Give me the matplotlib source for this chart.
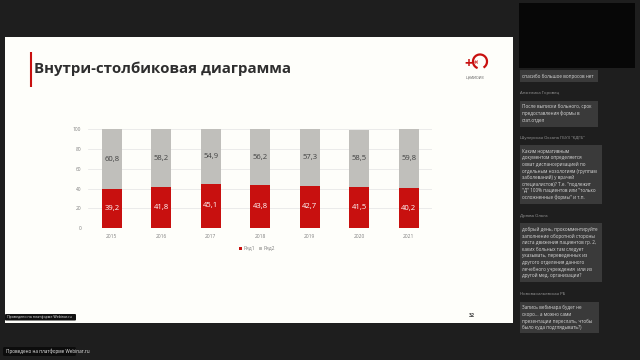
import matplotlib
matplotlib.use("Agg")
import matplotlib.pyplot as plt
from matplotlib.patches import Rectangle, FancyBboxPatch, Arc
import numpy as np

years = ["2015", "2016", "2017", "2018", "2019", "2020", "2021"]
row1 = [39.2, 41.8, 45.1, 43.8, 42.7, 41.5, 40.2]
row2 = [60.8, 58.2, 54.9, 56.2, 57.3, 58.5, 59.8]
yticks = [0, 20, 40, 60, 80, 100]
series_names = ["Ряд1", "Ряд2"]
title = "Внутри-столбиковая диаграмма"

# chat panel on the right: (author, bubble lines)
chat = [
    (None, ["спасибо большое вопросов нет"]),
    ("Анжелика Горовец", ["После выписки больного, срок",
                          "предоставления формы в",
                          "стат.отдел"]),
    ("Шулерская Оксана ГБУЗ \"КДГБ\"", ["Каким нормативным",
                                        "документом определяется",
                                        "охват диспансеризацией по",
                                        "отдельным нозологиям (группам",
                                        "заболеваний) у врачей",
                                        "специалистов)? Т.е. \"подлежит",
                                        "\"Д\" 100% пациентов или \"только",
                                        "осложненные формы\" и т.п."]),
    ("Дрюва Ольга", ["добрый день, прокомментируйте",
                     "заполнение оборотной стороны",
                     "листа движения пациентов гр. 2,",
                     "каких больных там следует",
                     "указывать, переведенных из",
                     "другого отделения данного",
                     "лечебного учреждения  или из",
                     "другой мед. организации?"]),
    ("Нововасильевская РБ", ["Запись вебинара будет не",
                             "скоро... а можно сами",
                             "презентации переслать, чтобы",
                             "было куда подглядывать?)"]),
]

RED = "#c8100f"
GRAY = "#c0bfbb"
plt.rcParams["font.family"] = ["Open Sans", "DejaVu Sans"]

fig = plt.figure(figsize=(6.4, 3.6), dpi=100)
fig.patch.set_facecolor("#1e1e1e")

# pixel-coordinate background layer
bg = fig.add_axes([0, 0, 1, 1])
bg.set_xlim(0, 640)
bg.set_ylim(360, 0)
bg.axis("off")

# slide
bg.add_patch(Rectangle((5, 37), 508, 286, facecolor="#fefefa", edgecolor="none"))
bg.plot([31, 31], [52, 87], color=RED, lw=1.5, solid_capstyle="butt")
bg.text(34, 69, title, fontsize=10.8, fontweight="bold", color="#2e2e2e",
        va="center", ha="left")

# logo
bg.add_patch(Arc((480, 61.5), 14, 14, theta1=-250, theta2=60, color=RED, lw=1.6))
bg.text(468, 64, "+", fontsize=10, fontweight="bold", color=RED, ha="center", va="center")
bg.text(476, 62.5, "«", fontsize=5, fontweight="bold", color=RED, ha="center", va="center")
bg.text(475, 77.5, "ЦНИИОИЗ", fontsize=2.6, color="#555555", ha="center", va="center")

bg.text(472, 315.5, "32", fontsize=3.8, fontweight="bold", color="#444444",
        ha="center", va="center")

# webinar labels
bg.add_patch(FancyBboxPatch((5, 314), 71, 6.5, boxstyle="round,pad=0,rounding_size=1",
                            facecolor="#111111", edgecolor="none"))
bg.text(7, 317.3, "Проведено на платформе Webinar.ru", fontsize=2.6, color="#eeeeee",
        va="center", ha="left")
bg.add_patch(FancyBboxPatch((3, 347), 73, 9, boxstyle="round,pad=0,rounding_size=1.5",
                            facecolor="#0c0c0c", edgecolor="none"))
bg.text(6, 351.5, "Проведено на платформе Webinar.ru", fontsize=3.3, color="#eeeeee",
        va="center", ha="left")

# right panel
bg.add_patch(Rectangle((519, 3), 116, 65, facecolor="#070707", edgecolor="none"))
tops = [70, 100.7, 145, 223.3, 301.7]
heights = [12, 26, 59, 58.4, 31.6]
widths = [78, 78, 82, 82, 79]
lh = 6.6
for (author, lines), top, h, w in zip(chat, tops, heights, widths):
    if author:
        bg.text(520, top - 7.5, author, fontsize=3.1, color="#9a9a9a", va="center", ha="left")
    bg.add_patch(Rectangle((520, top), w, h, facecolor="#3a3a3a", edgecolor="none"))
    for i, ln in enumerate(lines):
        bg.text(522, top + 6.2 + i * lh, ln, fontsize=3.3, color="#d8d8d8",
                va="center", ha="left")

# chart
ax = fig.add_axes([88 / 640, 1 - 228 / 360, (432 - 88) / 640, (228 - 129.5) / 360])
ax.set_facecolor("none")
x = np.arange(len(years))
ax.bar(x, row1, width=0.4, color=RED, label=series_names[0], zorder=3)
ax.bar(x, row2, width=0.4, bottom=row1, color=GRAY, label=series_names[1], zorder=3)
for xi, a, b in zip(x, row1, row2):
    ax.text(xi, a / 2, f"{a:.1f}".replace(".", ","), ha="center", va="center",
            fontsize=5.5, color="white", zorder=4)
    ax.text(xi, a + b / 2, f"{b:.1f}".replace(".", ","), ha="center", va="center",
            fontsize=5.5, color="#404040", zorder=4)
ax.set_xlim(-0.48, 6.47)
ax.set_ylim(0, 100)
ax.set_yticks(yticks)
ax.set_xticks(x)
ax.set_xticklabels(years)
ax.grid(axis="y", color="#e8e8e8", lw=0.6, zorder=0)
for s in ax.spines.values():
    s.set_visible(False)
ax.tick_params(length=0, labelsize=3.5, colors="#7f7f7f")
ax.tick_params(axis="y", pad=5)
ax.tick_params(axis="x", pad=4)
leg = ax.legend(loc="upper center", bbox_to_anchor=(0.49, -0.14), ncol=2, frameon=False,
                fontsize=3.6, handlelength=0.6, handleheight=0.6, columnspacing=0.8,
                handletextpad=0.3)
for t in leg.get_texts():
    t.set_color("#7f7f7f")

fig.savefig("out.png", dpi=100, facecolor=fig.get_facecolor())
